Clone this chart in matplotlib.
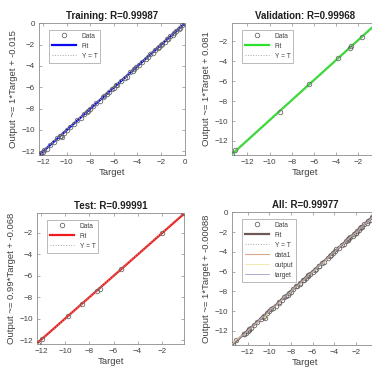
import matplotlib
matplotlib.use("Agg")
import matplotlib.pyplot as plt
import numpy as np

plt.rcParams['font.family'] = ['Liberation Sans', 'DejaVu Sans']

# ---- regression data (target, network output) per subset ----
train_target = [-12.3, -12.2, -12.0, -11.9, -11.7, -11.4, -11.1, -10.8, -10.6, -10.5,
                -10.4, -10.2, -10.0, -9.7, -9.4, -9.1, -8.8, -8.5, -8.3, -8.2,
                -8.0, -7.8, -7.5, -7.2, -6.9, -6.8, -6.6, -6.4, -6.2, -6.0,
                -5.8, -5.7, -5.4, -5.1, -4.9, -4.6, -4.4, -4.3, -4.1, -3.9,
                -3.6, -3.3, -3.1, -2.9, -2.7, -2.5, -2.3, -2.2, -2.0, -1.9,
                -1.7, -1.5, -1.4, -1.2, -1.0, -0.9, -0.7, -0.5, -0.4, -0.2, 0.0]
train_output = [-12.35, -12.2, -12.05, -11.9, -11.75, -11.4, -11.15, -10.8, -10.6, -10.55,
                -10.7, -10.25, -10.0, -9.7, -9.45, -9.1, -8.85, -8.5, -8.35, -8.2,
                -8.05, -7.8, -7.5, -7.25, -6.9, -6.85, -6.6, -6.45, -6.2, -6.05,
                -5.8, -5.75, -5.45, -5.1, -5.05, -4.6, -4.45, -4.3, -4.1, -3.95,
                -3.6, -3.3, -3.15, -2.9, -2.75, -2.5, -2.35, -2.2, -2.05, -1.9,
                -1.75, -1.5, -1.45, -1.2, -1.05, -0.9, -0.75, -0.5, -0.45, -0.2, 0.0]

val_target = [-13.4, -13.1, -9.1, -6.4, -3.8, -2.75, -2.6, -1.65, -0.3]
val_output = [-13.35, -12.95, -9.15, -6.35, -3.75, -2.7, -2.55, -1.6, -0.2]

test_target = [-12.3, -11.9, -9.8, -8.65, -7.4, -7.15, -5.4, -2.0, -0.2]
test_output = [-12.35, -11.85, -9.75, -8.6, -7.45, -7.2, -5.4, -2.05, -0.15]

titles = ["Training: R=0.99987", "Validation: R=0.99968",
          "Test: R=0.99991", "All: R=0.99977"]
ylabels = ["Output ~= 1*Target + -0.015", "Output ~= 1*Target + 0.081",
           "Output ~= 0.99*Target + -0.068", "Output ~= 1*Target + -0.00088"]
fit_slope = [1.0, 1.0, 0.99, 1.0]
fit_offset = [-0.015, 0.081, -0.068, -0.00088]
limits = [(-12.35, 0.03), (-13.4, -0.2), (-12.35, -0.15), (-13.45, 0.05)]
xticks = [[-12, -10, -8, -6, -4, -2, 0], [-12, -10, -8, -6, -4, -2],
          [-12, -10, -8, -6, -4, -2], [-12, -10, -8, -6, -4, -2]]
yticks = [[-12, -10, -8, -6, -4, -2, 0], [-12, -10, -8, -6, -4, -2],
          [-12, -10, -8, -6, -4, -2], [-12, -10, -8, -6, -4, -2, 0]]
fit_colors = ["#0a0af0", "#2ee02e", "#f01c1c", "#6e5a55"]

all_target = train_target + val_target + test_target
all_output = train_output + val_output + test_output

sets = [(train_target, train_output), (val_target, val_output),
        (test_target, test_output), (all_target, all_output)]

W, H = 372, 374
fig = plt.figure(figsize=(W / 100, H / 100), dpi=100)
fig.patch.set_facecolor("white")

# axes boxes in pixels: left, top, right, bottom
boxes = [(39, 23, 185, 155), (232, 23, 378, 155),
         (37, 213, 184, 344), (232, 212, 378, 345)]

axes_color = "#8c8c8c"
text_color = "#404040"

for i, (l, t, r, b) in enumerate(boxes):
    ax = fig.add_axes([l / W, 1 - b / H, (r - l) / W, (b - t) / H])
    tx, ty = sets[i]
    lo, hi = limits[i]
    grid = np.array([lo, hi])

    ax.plot(tx, ty, linestyle="none", marker="o", markersize=3.3,
            markerfacecolor="none", markeredgecolor="#606060",
            markeredgewidth=0.55, label="Data", zorder=4)
    ax.plot(grid, fit_slope[i] * grid + fit_offset[i], color=fit_colors[i],
            linewidth=1.6, label="Fit", zorder=3)
    ax.plot(grid, grid, linestyle=":", color="#a8a89a", linewidth=0.7,
            label="Y = T", zorder=5)

    if i == 3:
        order = np.argsort(all_target)
        st = np.array(all_target)[order]
        so = np.array(all_output)[order]
        ax.plot(st, so, color="#d9a98a", linewidth=0.8, label="data1", zorder=4.5)
        ax.plot(st, so, color="#eee08a", linewidth=0.5, label="output", zorder=4.5)
        ax.plot(st, st, color="#9a80c0", linewidth=0.5, label="target", zorder=4.5)

    ax.set_xlim(lo, hi)
    ax.set_ylim(lo, hi)
    ax.set_xticks(xticks[i])
    ax.set_yticks(yticks[i])
    ax.tick_params(direction="in", length=2.0, width=0.5, colors=axes_color,
                   labelcolor=text_color, labelsize=5.8, pad=3,
                   top=True, right=True)
    for sp in ax.spines.values():
        sp.set_color(axes_color)
        sp.set_linewidth(0.6)

    ax.set_title(titles[i], fontsize=7.0, fontweight="bold", color="#202020", pad=3)
    ax.set_xlabel("Target", fontsize=6.8, color=text_color, labelpad=1.5)
    ax.set_ylabel(ylabels[i], fontsize=6.8, color=text_color, labelpad=2)

    leg = ax.legend(loc="upper left", bbox_to_anchor=(0.07, 0.95), fontsize=4.8,
                    frameon=True, fancybox=False, handlelength=3.6,
                    handletextpad=0.8, borderpad=0.45, labelspacing=0.45,
                    borderaxespad=0.0)
    leg.get_frame().set_edgecolor("#9a9a9a")
    leg.get_frame().set_linewidth(0.6)
    for txt in leg.get_texts():
        txt.set_color(text_color)

fig.savefig("out.png", dpi=100, facecolor="white")
